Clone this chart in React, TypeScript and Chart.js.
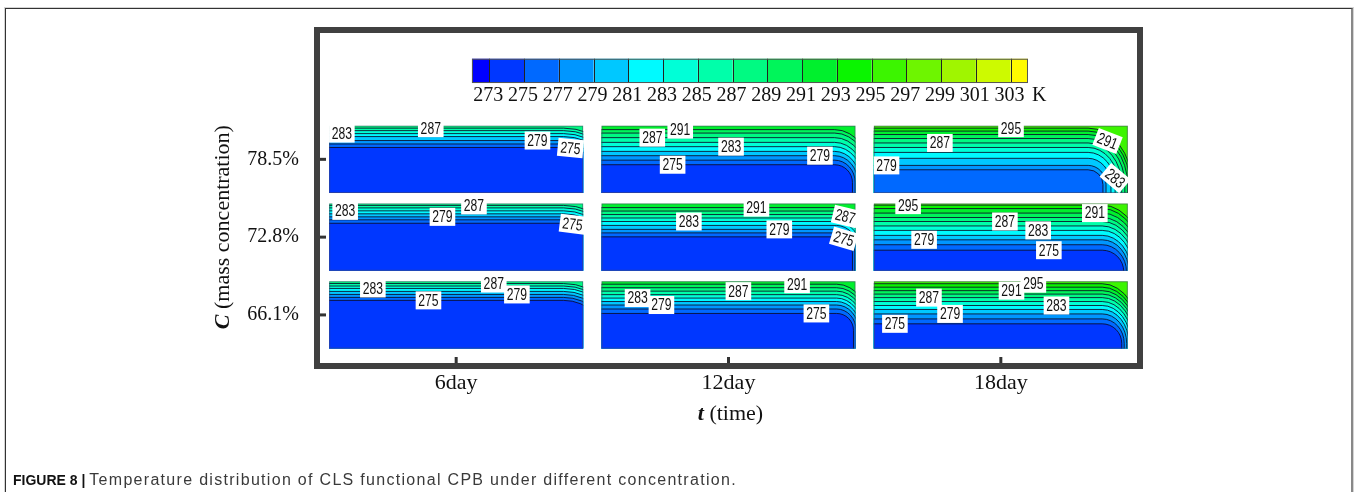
import React, { useEffect, useRef } from 'react';
import { Chart, registerables } from 'chart.js';

Chart.register(...registerables);

// ---------- axis categories ----------
const timeLabels = ['6day', '12day', '18day'];
const concLabels = ['66.1%', '72.8%', '78.5%'];

// ---------- colour bar ----------
const colorbarTicks = [273, 275, 277, 279, 281, 283, 285, 287, 289, 291, 293, 295, 297, 299, 301, 303];
const colorbarRange = [272, 304];
const colorbarUnit = 'K';
const bandColors = [
  'rgb(0,0,255)', 'rgb(0,55,255)', 'rgb(0,105,255)', 'rgb(0,150,255)', 'rgb(0,200,255)', 'rgb(0,250,255)',
  'rgb(0,255,215)', 'rgb(0,255,170)', 'rgb(0,250,130)', 'rgb(0,245,90)', 'rgb(0,240,45)', 'rgb(10,245,0)',
  'rgb(60,245,0)', 'rgb(110,245,0)', 'rgb(160,245,0)', 'rgb(205,250,0)', 'rgb(255,250,0)',
];

// ---------- contour panels (levels in K, depth = fraction of panel height from top) ----------
// corner = [right inset of cold core (fraction of width), corner radius (fraction of height), horizontal/vertical spread]
const levels_6d_785 = [287, 285, 283, 281, 279, 277, 275];
const depths_6d_785 = [0.037, 0.074, 0.118, 0.162, 0.221, 0.272, 0.324];
const corner_6d_785 = [-0.098, 0.66, 1];
const tags_6d_785 = [[283, 0.05], [287, 0.40], [279, 0.82], [275, 0.95]];

const levels_12d_785 = [291, 289, 287, 285, 283, 281, 279, 277, 275];
const depths_12d_785 = [0.059, 0.110, 0.178, 0.248, 0.312, 0.382, 0.446, 0.512, 0.580];
const corner_12d_785 = [0.012, 0.265, 0.6];
const tags_12d_785 = [[287, 0.20], [291, 0.31], [283, 0.51], [279, 0.86], [275, 0.28]];

const levels_18d_785 = [295, 293, 291, 289, 287, 285, 283, 281, 279, 277];
const depths_18d_785 = [0.037, 0.081, 0.132, 0.191, 0.257, 0.324, 0.397, 0.485, 0.590, 0.655];
const corner_18d_785 = [0.098, 0.22, 0.7];
const tags_18d_785 = [[295, 0.54], [287, 0.26], [279, 0.05], [291, 0.92], [283, 0.95]];

const levels_6d_728 = [287, 285, 283, 281, 279, 277, 275];
const depths_6d_728 = [0.029, 0.066, 0.110, 0.154, 0.199, 0.243, 0.294];
const corner_6d_728 = [-0.098, 0.66, 1];
const tags_6d_728 = [[283, 0.063], [279, 0.446], [287, 0.57], [275, 0.958]];

const levels_12d_728 = [291, 289, 287, 285, 283, 281, 279, 277, 275];
const depths_12d_728 = [0.062, 0.113, 0.165, 0.216, 0.268, 0.326, 0.385, 0.437, 0.496];
const corner_12d_728 = [0.012, 0.24, 0.6];
const tags_12d_728 = [[283, 0.344], [291, 0.61], [279, 0.70], [287, 0.96], [275, 0.954]];

const levels_18d_728 = [295, 293, 291, 289, 287, 285, 283, 281, 279, 277, 275];
const depths_18d_728 = [0.025, 0.076, 0.143, 0.209, 0.268, 0.334, 0.400, 0.474, 0.540, 0.613, 0.694];
const corner_18d_728 = [0.016, 0.32, 0.5];
const tags_18d_728 = [[295, 0.135], [291, 0.87], [287, 0.516], [283, 0.647], [279, 0.198], [275, 0.689]];

const levels_6d_661 = [287, 285, 283, 281, 279, 277, 275];
const depths_6d_661 = [0.034, 0.071, 0.107, 0.151, 0.196, 0.240, 0.284];
const corner_6d_661 = [-0.098, 0.66, 1];
const tags_6d_661 = [[283, 0.172], [275, 0.391], [287, 0.648], [279, 0.739]];

const levels_12d_661 = [291, 289, 287, 285, 283, 281, 279, 277, 275];
const depths_12d_661 = [0.044, 0.096, 0.147, 0.199, 0.250, 0.301, 0.353, 0.412, 0.478];
const corner_12d_661 = [0.008, 0.25, 0.6];
const tags_12d_661 = [[283, 0.142], [279, 0.236], [287, 0.539], [291, 0.77], [275, 0.846]];

const levels_18d_661 = [295, 293, 291, 289, 287, 285, 283, 281, 279, 277, 275];
const depths_18d_661 = [0.037, 0.088, 0.140, 0.191, 0.243, 0.301, 0.360, 0.419, 0.485, 0.559, 0.632];
const corner_18d_661 = [0.024, 0.29, 0.5];
const tags_18d_661 = [[287, 0.217], [279, 0.30], [275, 0.083], [291, 0.542], [295, 0.628], [283, 0.719]];

type Panel = { col: number; row: number; levels: number[]; depths: number[]; corner: number[]; tags: number[][] };
const panels: Panel[] = [
  { col: 0, row: 2, levels: levels_6d_785, depths: depths_6d_785, corner: corner_6d_785, tags: tags_6d_785 },
  { col: 1, row: 2, levels: levels_12d_785, depths: depths_12d_785, corner: corner_12d_785, tags: tags_12d_785 },
  { col: 2, row: 2, levels: levels_18d_785, depths: depths_18d_785, corner: corner_18d_785, tags: tags_18d_785 },
  { col: 0, row: 1, levels: levels_6d_728, depths: depths_6d_728, corner: corner_6d_728, tags: tags_6d_728 },
  { col: 1, row: 1, levels: levels_12d_728, depths: depths_12d_728, corner: corner_12d_728, tags: tags_12d_728 },
  { col: 2, row: 1, levels: levels_18d_728, depths: depths_18d_728, corner: corner_18d_728, tags: tags_18d_728 },
  { col: 0, row: 0, levels: levels_6d_661, depths: depths_6d_661, corner: corner_6d_661, tags: tags_6d_661 },
  { col: 1, row: 0, levels: levels_12d_661, depths: depths_12d_661, corner: corner_12d_661, tags: tags_12d_661 },
  { col: 2, row: 0, levels: levels_18d_661, depths: depths_18d_661, corner: corner_18d_661, tags: tags_18d_661 },
];

// ---------- layout constants (scale units) ----------
const PANEL_HW = 0.4664;
const PANEL_HH = 0.433;
const CB_X = [0.058, 2.0997];
const CB_Y = [2.981, 3.293];

const SERIF = '"Liberation Serif", "Times New Roman", serif';
const SANS = '"Liberation Sans", Arial, sans-serif';

function bandColor(lo: number) {
  const k = Math.max(0, Math.min(bandColors.length - 1, Math.round((lo - 271) / 2)));
  return bandColors[k];
}

function drawTag(ctx: CanvasRenderingContext2D, text: string, x: number, y: number, ang: number) {
  ctx.save();
  ctx.translate(x, y);
  ctx.rotate(ang);
  ctx.scale(0.76, 1);
  ctx.font = '16px ' + SANS;
  const w = ctx.measureText(text).width + 7;
  ctx.fillStyle = '#fff';
  ctx.fillRect(-w / 2, -9, w, 18);
  ctx.fillStyle = '#111';
  ctx.textAlign = 'center';
  ctx.textBaseline = 'middle';
  ctx.fillText(text, 0, 1);
  ctx.restore();
}

function drawPanel(ctx: CanvasRenderingContext2D, xs: any, ys: any, p: Panel) {
  const L = xs.getPixelForValue(p.col - PANEL_HW);
  const R = xs.getPixelForValue(p.col + PANEL_HW);
  const T = ys.getPixelForValue(p.row + PANEL_HH);
  const B = ys.getPixelForValue(p.row - PANEL_HH);
  const W = R - L;
  const H = B - T;
  const yl = p.depths.map((d) => T + d * H);
  const yCore = yl[yl.length - 1];
  const inset = p.corner[0] * W;
  const r0 = p.corner[1] * H;
  const hs = p.corner[2];
  const xStart = R - inset - r0;
  const geo = yl.map((y) => {
    const o = yCore - y;
    return { y, rx: r0 + hs * o, ry: r0 + o };
  });
  const path = (g: { y: number; rx: number; ry: number }) => {
    ctx.moveTo(L - 2, g.y);
    ctx.lineTo(xStart, g.y);
    ctx.ellipse(xStart, g.y + g.ry, g.rx, g.ry, 0, -Math.PI / 2, 0);
    ctx.lineTo(xStart + g.rx, B + 2);
  };
  ctx.save();
  ctx.beginPath();
  ctx.rect(L, T, W, H);
  ctx.clip();
  ctx.fillStyle = bandColor(p.levels[0]);
  ctx.fillRect(L, T, W, H);
  geo.forEach((g, i) => {
    ctx.beginPath();
    path(g);
    ctx.lineTo(L - 2, B + 2);
    ctx.closePath();
    ctx.fillStyle = bandColor(p.levels[i] - 2);
    ctx.fill();
  });
  ctx.strokeStyle = 'rgba(10,10,40,0.85)';
  ctx.lineWidth = 1;
  geo.forEach((g) => {
    ctx.beginPath();
    path(g);
    ctx.stroke();
  });
  ctx.restore();
  ctx.strokeStyle = 'rgba(70,70,100,0.55)';
  ctx.lineWidth = 1;
  ctx.strokeRect(L + 0.5, T + 0.5, W - 1, H - 1);

  p.tags.forEach(([lev, fx]) => {
    const i = p.levels.indexOf(lev);
    if (i < 0) return;
    const g = geo[i];
    const x = L + fx * W;
    let y = g.y;
    let ang = 0;
    if (x > xStart) {
      const dx = Math.min(x - xStart, g.rx * 0.98);
      const t = dx / g.rx;
      const s = Math.sqrt(1 - t * t);
      y = g.y + g.ry * (1 - s);
      ang = Math.min(0.7, 0.6 * Math.atan(((g.ry / g.rx) * t) / s));
    }
    drawTag(ctx, String(lev), x, y, ang);
  });
}

const figurePlugin = {
  id: 'contourFigure',
  afterDraw(chart: any) {
    const ctx: CanvasRenderingContext2D = chart.ctx;
    const xs = chart.scales.x;
    const ys = chart.scales.y;
    const area = chart.chartArea;

    // panels
    panels.forEach((p) => drawPanel(ctx, xs, ys, p));

    // colour bar
    const bx0 = xs.getPixelForValue(CB_X[0]);
    const bx1 = xs.getPixelForValue(CB_X[1]);
    const by0 = ys.getPixelForValue(CB_Y[1]);
    const by1 = ys.getPixelForValue(CB_Y[0]);
    const vx = (v: number) => bx0 + ((v - colorbarRange[0]) / (colorbarRange[1] - colorbarRange[0])) * (bx1 - bx0);
    const edges = [colorbarRange[0], ...colorbarTicks, colorbarRange[1]];
    for (let i = 0; i < edges.length - 1; i++) {
      ctx.fillStyle = bandColors[i];
      ctx.fillRect(vx(edges[i]), by0, vx(edges[i + 1]) - vx(edges[i]), by1 - by0);
    }
    ctx.strokeStyle = '#222';
    ctx.lineWidth = 1;
    colorbarTicks.forEach((t) => {
      const x = Math.round(vx(t)) + 0.5;
      ctx.beginPath();
      ctx.moveTo(x, by0);
      ctx.lineTo(x, by1);
      ctx.stroke();
    });
    ctx.strokeStyle = '#555';
    ctx.strokeRect(bx0 + 0.5, by0 + 0.5, bx1 - bx0 - 1, by1 - by0 - 1);
    ctx.fillStyle = '#111';
    ctx.font = '20px ' + SERIF;
    ctx.textAlign = 'center';
    ctx.textBaseline = 'alphabetic';
    colorbarTicks.forEach((t) => ctx.fillText(String(t), vx(t) - 1, by1 + 18));
    ctx.textAlign = 'left';
    ctx.fillText(colorbarUnit, bx1 + 4, by1 + 18);

    // thick frame
    ctx.strokeStyle = '#404040';
    ctx.lineWidth = 6;
    ctx.strokeRect(area.left - 3, area.top - 3, area.right - area.left + 6, area.bottom - area.top + 6);

    // inward ticks
    ctx.fillStyle = '#333';
    [0, 1, 2].forEach((v) => {
      const x = xs.getPixelForValue(v);
      ctx.fillRect(x - 1.5, area.bottom - 6, 3, 6);
      const y = ys.getPixelForValue(v);
      ctx.fillRect(area.left, y - 1.5, 6, 3);
    });

    // axis titles with mixed fonts
    const drawTitle = (bold: string, rest: string, cx: number, cy: number, rot: number) => {
      ctx.save();
      ctx.translate(cx, cy);
      ctx.rotate(rot);
      ctx.textBaseline = 'middle';
      ctx.textAlign = 'left';
      ctx.fillStyle = '#111';
      const fb = 'italic bold 22px ' + SERIF;
      const fr = '22px ' + SERIF;
      ctx.font = fb;
      const wb = ctx.measureText(bold).width;
      ctx.font = fr;
      const wr = ctx.measureText(rest).width;
      const start = -(wb + wr) / 2;
      ctx.font = fb;
      ctx.fillText(bold, start, 0);
      ctx.font = fr;
      ctx.fillText(rest, start + wb, 0);
      ctx.restore();
    };
    drawTitle('t', ' (time)', xs.getPixelForValue(1) + 2, area.bottom + 51, 0);
    drawTitle('C', ' (mass concentration)', area.left - 97, ys.getPixelForValue(1) - 10, -Math.PI / 2);
  },
};

export default function App() {
  const ref = useRef<HTMLCanvasElement | null>(null);
  useEffect(() => {
    if (!ref.current) return;
    const pts: { x: number; y: number }[] = [];
    panels.forEach((p) => pts.push({ x: p.col, y: p.row }));
    const chart = new Chart(ref.current, {
      type: 'scatter',
      data: { datasets: [{ data: pts, pointRadius: 0, showLine: false }] },
      options: {
        animation: false,
        responsive: false,
        maintainAspectRatio: false,
        devicePixelRatio: 1,
        events: [],
        layout: { padding: { left: 0, top: 30, right: 217, bottom: 0 } },
        plugins: { legend: { display: false }, tooltip: { enabled: false } },
        scales: {
          x: {
            type: 'linear',
            min: -0.5,
            max: 2.5,
            afterBuildTicks: (axis: any) => {
              axis.ticks = timeLabels.map((_, i) => ({ value: i }));
            },
            afterFit: (axis: any) => {
              axis.height = 129;
            },
            ticks: {
              autoSkip: false,
              maxRotation: 0,
              padding: 7,
              color: '#111',
              font: { family: SERIF, size: 22 },
              callback: (v: any) => timeLabels[Math.round(Number(v))] ?? '',
            },
            grid: { display: false, drawTicks: false },
            border: { display: false },
          },
          y: {
            type: 'linear',
            min: -0.618,
            max: 3.624,
            afterBuildTicks: (axis: any) => {
              axis.ticks = concLabels.map((_, i) => ({ value: i }));
            },
            afterFit: (axis: any) => {
              axis.width = 320;
            },
            ticks: {
              autoSkip: false,
              padding: 21,
              color: '#111',
              font: { family: SERIF, size: 20 },
              callback: (v: any) => concLabels[Math.round(Number(v))] ?? '',
            },
            grid: { display: false, drawTicks: false },
            border: { display: false },
          },
        },
      } as any,
      plugins: [figurePlugin],
    });
    return () => chart.destroy();
  }, []);

  return (
    <div style={{ position: 'absolute', left: 0, top: 0, width: 1354, height: 492, overflow: 'hidden', background: '#fff' }}>
      <div
        style={{
          position: 'absolute',
          left: 5,
          top: 8,
          width: 1345,
          height: 520,
          borderTop: '1px solid #333',
          borderLeft: '1px solid #333',
          borderRight: '2px solid #888',
          boxShadow: '0 0 0 1px #d4d4d4',
        }}
      />
      <canvas ref={ref} width={1354} height={492} style={{ position: 'absolute', left: 0, top: 0 }} />
      <div
        style={{
          position: 'absolute',
          left: 13,
          top: 471,
          font: '14px ' + SANS,
          lineHeight: '17px',
          color: '#333',
          whiteSpace: 'nowrap',
        }}
      >
        <b style={{ color: '#111' }}>FIGURE 8 |</b>{' '}
        <span style={{ fontSize: '16px', letterSpacing: '1.3px', color: '#3a3a3a' }}>
          Temperature distribution of CLS functional CPB under different concentration.
        </span>
      </div>
    </div>
  );
}
